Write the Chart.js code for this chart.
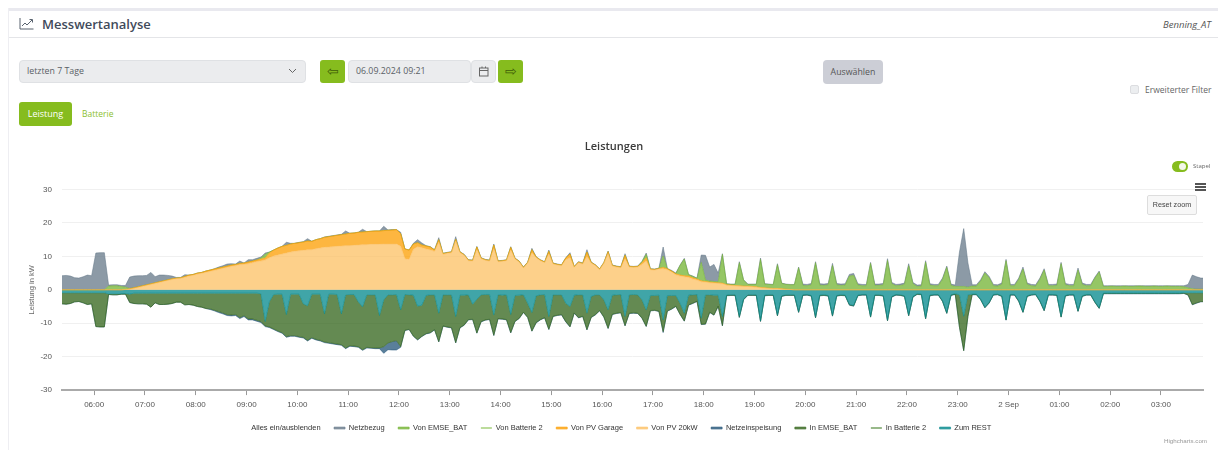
<!DOCTYPE html>
<html lang="de">
<head>
<meta charset="utf-8">
<title>Messwertanalyse</title>
<script src="https://cdn.jsdelivr.net/npm/chart.js@4"></script>
<style>
  body { margin: 0; width: 1218px; height: 450px; overflow: hidden; background: #fff; font-family: "Open Sans", sans-serif; color: #555; position: relative; }
  .abs { position: absolute; box-sizing: border-box; }
  .field { background: #ebecee; border: 1px solid #dfe1e4; border-radius: 4px; font-size: 8.8px; line-height: 21px; padding-left: 7px; color: #5a5f66; }
  .green { background: #86bc1e; border-radius: 3px; color: #3f5d08; font-size: 14px; line-height: 21px; text-align: center; }
  #chartBox { left: 0; top: 130px; width: 1218px; height: 320px; }
</style>
</head>
<body>
<div class="abs" style="left:8px;top:8px;width:1210px;height:3px;background:#e9e9ef"></div>
<div class="abs" style="left:8px;top:8px;width:1px;height:442px;background:#eeeef2"></div>
<div class="abs" style="left:9px;top:37px;width:1209px;height:1px;background:#e4e5e8"></div>
<svg class="abs" style="left:19px;top:17px" width="15" height="13" viewBox="0 0 15 13" fill="none" stroke="#59636f" stroke-width="1">
  <path d="M1 1V12H14.5"/><path d="M3 9L6 6L8 8L13 3"/><path d="M10.5 2.5H13.5V5.5"/>
</svg>
<div class="abs" style="left:42px;top:15px;font-size:13px;font-weight:600;color:#3f4a5a">Messwertanalyse</div>
<div class="abs" style="right:7px;top:18px;font-size:9.5px;font-style:italic;color:#555">Benning_AT</div>

<div class="abs field" style="left:19px;top:60px;width:287px;height:23px">letzten 7 Tage</div>
<svg class="abs" style="left:288px;top:68px" width="9" height="6" fill="none" stroke="#666"><path d="M1 1L4.5 4.5L8 1"/></svg>
<div class="abs green" style="left:320px;top:60px;width:25px;height:23px">&#8678;</div>
<div class="abs field" style="left:348px;top:60px;width:123px;height:23px">06.09.2024 09:21</div>
<div class="abs field" style="left:471px;top:60px;width:25px;height:23px"></div>
<svg class="abs" style="left:479px;top:66px" width="10" height="11" fill="none" stroke="#666"><rect x="0.5" y="2" width="8.5" height="8"/><path d="M0.5 4.5H9M3 0.5V2M6.5 0.5V2"/></svg>
<div class="abs green" style="left:498px;top:60px;width:25px;height:23px">&#8680;</div>
<div class="abs" style="left:823px;top:60px;width:60px;height:24px;background:#ccced6;border-radius:4px;font-size:8.8px;line-height:24px;text-align:center;color:#555">Auswählen</div>
<div class="abs" style="left:1130px;top:85px;width:9px;height:9px;background:#eceef0;border:1px solid #dcdde0;border-radius:2px"></div>
<div class="abs" style="left:1145px;top:84px;font-size:8.5px;color:#666">Erweiterter Filter</div>
<div class="abs" style="left:19px;top:102px;width:53px;height:24px;background:#86bc1e;border-radius:3px;font-size:9px;line-height:24px;text-align:center;color:#fff">Leistung</div>
<div class="abs" style="left:82px;top:108px;font-size:8.5px;color:#8cc030">Batterie</div>

<div class="abs" id="chartBox"><canvas id="leistungChart" width="1218" height="320"></canvas></div>

<div class="abs" style="left:1172px;top:161px;width:16px;height:11px;background:#86bc1e;border-radius:6px"></div>
<div class="abs" style="left:1179px;top:163px;width:7px;height:7px;background:#f4f8ea;border-radius:50%"></div>
<div class="abs" style="left:1193px;top:162px;font-size:6px;color:#666">Stapel</div>
<div class="abs" style="left:1195px;top:183px;width:11px;height:2px;background:#555"></div>
<div class="abs" style="left:1195px;top:186px;width:11px;height:2px;background:#555"></div>
<div class="abs" style="left:1195px;top:189px;width:11px;height:2px;background:#555"></div>
<div class="abs" style="left:1147px;top:195px;width:50px;height:20px;background:#f7f7f7;border:1px solid #ddd;border-radius:2px;font-family:'Liberation Sans',sans-serif;font-size:7.2px;line-height:18px;text-align:center;color:#444">Reset zoom</div>
<div class="abs" style="left:1164px;top:437px;font-family:'Liberation Sans',sans-serif;font-size:6.2px;color:#999">Highcharts.com</div>

<script>
// Messwerte alle 5 Minuten, Start 01.09. 05:22 (Stunden ab Mitternacht)
const startHour = 5 + 22 / 60;
const stepHours = 1 / 12;
const endHour = 27.827;

const tickHours = [6, 7, 8, 9, 10, 11, 12, 13, 14, 15, 16, 17, 18, 19, 20, 21, 22, 23, 24, 25, 26, 27];
const tickLabels = ["06:00", "07:00", "08:00", "09:00", "10:00", "11:00", "12:00", "13:00", "14:00", "15:00", "16:00",
  "17:00", "18:00", "19:00", "20:00", "21:00", "22:00", "23:00", "2 Sep", "01:00", "02:00", "03:00"];
const yTicks = [30, 20, 10, 0, -10, -20, -30];

const netzbezug = [
  4.2,4.3,4.1,3.6,3.5,3.9,4.4,4.2,11.0,11.1,
  11.1,.3,.3,.3,.3,.5,3.4,3.5,3.3,3.0,
  2.8,3.4,1.8,2.0,1.7,1.3,.8,.2,.1,.5,
  0,0,0,0,0,0,.1,.3,.4,.6,
  .4,.1,.7,0,.7,.4,.5,.3,.4,0,
  0,0,0,.9,.2,0,.1,.1,.7,0,
  0,0,.1,.1,.1,.1,.1,.9,0,0,
  0,.8,0,0,0,0,1.3,.1,.1,0,
  .4,0,0,.2,.9,.6,.1,.1,.1,.6,
  0,.1,.1,.8,.1,.1,.1,.1,.2,.1,
  .1,.1,.3,.1,.1,.1,.2,.1,.1,.1,
  .1,.4,.1,.1,.1,.4,.1,.1,.1,.1,
  .4,.1,.1,.1,.7,.1,.1,.1,.1,.2,
  .1,.1,.1,.4,.1,.1,.1,.1,.4,.1,
  .1,.1,2.7,.1,.2,.2,.1,.2,.1,.1,
  .1,2.2,7.4,4.2,5.1,2.6,.2,.1,.1,.1,
  .3,.1,.1,.1,.1,.4,.1,.1,.1,.3,
  .1,.1,.1,.1,.2,.4,.4,.4,.3,.4,
  .4,.4,.6,.4,.4,.4,.5,.6,.4,.4,
  .4,.3,.4,.4,.4,.5,.4,.4,.4,.4,
  .6,.4,.4,.4,.4,.4,.4,.4,.4,.4,
  .4,.4,10.3,17.3,7.2,.4,.4,.4,.4,.4,
  .4,.4,.4,.4,.4,.4,.4,.6,.4,.4,
  .4,.4,.4,.4,.4,.4,.4,.4,.4,.4,
  .6,.4,.4,.4,.3,.3,.2,.2,.1,.2,
  .2,.1,.2,.2,.1,.1,.2,.2,.1,.2,
  .2,.1,.2,.2,.2,.3,1.0,4.1,3.7,3.3,
  3.3];
const vonEmseBat = [
  0,0,0,0,0,0,0,0,0,0,
  0,1.1,1.2,1.2,1.0,.7,.1,0,0,0,
  0,0,0,0,0,0,0,0,0,0,
  0,0,0,0,0,0,0,0,0,0,
  0,0,0,0,0,0,0,.3,1.1,.3,
  0,0,0,0,0,0,0,0,0,0,
  0,0,0,0,0,0,0,0,0,0,
  0,0,0,0,0,0,0,0,0,0,
  0,0,0,0,0,0,0,0,0,0,
  .1,0,0,0,0,0,0,0,0,0,
  0,0,0,0,0,0,0,0,0,0,
  0,0,0,0,0,0,0,0,0,0,
  0,0,0,0,0,0,0,0,0,0,
  0,0,0,.1,0,0,0,.3,1.0,0,
  0,0,3.4,0,0,0,2.9,5.0,.4,.4,
  .2,5.5,.4,.3,.3,.3,8.6,.2,.2,.3,
  6.9,1.8,.5,.6,.7,8.4,1.1,1.1,1.1,7.1,
  1.6,1.4,1.4,1.5,6.6,1.3,1.2,1.5,8.1,1.4,
  1.3,1.5,7.3,1.5,1.3,1.4,4.1,4.3,1.4,1.2,
  1.2,7.9,1.3,1.3,1.5,8.8,1.8,1.2,1.3,1.6,
  7.2,1.8,1.0,1.1,8.3,1.4,1.2,1.2,3.1,6.7,
  1.3,1.0,1.0,1.0,.8,1.1,1.1,2.6,5.0,3.6,
  1.2,1.1,1.6,8.7,1.2,1.2,3.1,6.2,1.6,1.2,
  1.1,3.1,5.9,1.2,1.2,1.3,7.8,1.5,1.2,1.2,
  5.9,1.6,1.2,1.2,3.5,5.3,1.0,1.0,1.1,1.0,
  1.0,1.1,1.0,1.0,1.1,1.1,1.0,1.0,1.1,1.0,
  1.0,1.1,1.0,1.0,1.0,.9,.6,.3,.2,.2,
  .2];
const vonBatterie2 = [
  0,0,0,0,0,0,0,0,0,0, 0,0,0,0,0,0,0,0,0,0, 0,0,0,0,0,0,0,0,0,0,
  0,0,0,0,0,0,0,0,0,0, 0,0,0,0,0,0,0,0,0,0, 0,0,0,0,0,0,0,0,0,0,
  0,0,0,0,0,0,0,0,0,0, 0,0,0,0,0,0,0,0,0,0, 0,0,0,0,0,0,0,0,0,0,
  0,0,0,0,0,0,0,0,0,0, 0,0,0,0,0,0,0,0,0,0, 0,0,0,0,0,0,0,0,0,0,
  0,0,0,0,0,0,0,0,0,0, 0,0,0,0,0,0,0,0,0,0, 0,0,0,0,0,0,0,0,0,0,
  0,0,0,0,0,0,0,0,0,0, 0,0,0,0,0,0,0,0,0,0, 0,0,0,0,0,0,0,0,0,0,
  0,0,0,0,0,0,0,0,0,0, 0,0,0,0,0,0,0,0,0,0, 0,0,0,0,0,0,0,0,0,0,
  0,0,0,0,0,0,0,0,0,0, 0,0,0,0,0,0,0,0,0,0, 0,0,0,0,0,0,0,0,0,0,
  0,0,0,0,0,0,0,0,0,0, 0,0,0,0,0,0,0,0,0,0, 0,0,0,0,0,0,0,0,0,0,
  0];
const vonPvGarage = [
  0,0,0,0,0,0,0,0,0,0,
  0,0,0,0,0,0,.1,.2,.2,.2,
  .2,.2,.2,.2,.2,.2,.2,.2,.2,.3,
  .3,.3,.3,.3,.4,.4,.4,.4,.4,.4,
  .4,.4,.4,.4,.5,.5,.5,.6,.6,1.4,
  1.8,2.1,2.3,2.3,2.4,2.4,2.4,2.5,2.6,2.5,
  2.7,2.8,3.0,3.1,3.2,3.3,3.4,3.5,3.7,3.7,
  3.8,3.8,3.9,3.9,4.0,4.0,4.0,4.1,4.2,4.3,
  3.8,2.9,2.8,1.6,1.2,.8,.9,.9,.4,.8,
  .2,.2,.2,.5,.2,.2,.2,.2,.8,.2,
  .2,.2,1.1,.2,.2,.2,.8,.2,.2,.2,
  .2,1.0,.2,.2,.2,.8,.2,.2,.2,.5,
  1.1,.2,.2,.2,1.4,.2,.2,.2,.2,.6,
  .2,.2,.2,1.1,.2,.2,.2,.5,1.0,.2,
  .2,.2,.4,.3,.3,.3,.3,.3,.4,.4,
  .3,.3,.2,.2,.2,.2,.2,.1,.1,.1,
  .1,.1,.1,.1,.1,.1,.1,.1,.1,.1,
  .1,.1,0,0,0,0,0,0,0,0,
  0,0,0,0,0,0,0,0,0,0, 0,0,0,0,0,0,0,0,0,0, 0,0,0,0,0,0,0,0,0,0,
  0,0,0,0,0,0,0,0,0,0, 0,0,0,0,0,0,0,0,0,0, 0,0,0,0,0,0,0,0,0,0,
  0,0,0,0,0,0,0,0,0,0, 0,0,0,0,0,0,0,0,0,0, 0,0,0,0,0,0,0,0,0,0,
  0];
const vonPv20kW = [
  0,0,0,0,0,0,0,0,0,0,
  0,0,0,0,0,.1,.2,.4,.7,1.0,
  1.3,1.6,1.9,2.2,2.5,2.8,3.1,3.3,3.4,3.7,
  4.1,4.3,4.7,4.9,5.2,5.5,5.8,6.1,6.4,6.7,
  7.0,7.2,7.5,7.6,7.8,8.1,8.4,8.6,8.9,9.6,
  10.1,10.4,10.7,11.0,11.3,11.5,11.7,11.8,12.0,12.0,
  12.3,12.5,12.7,12.8,12.9,13.0,13.1,13.2,13.2,13.3,
  13.4,13.5,13.5,13.6,13.6,13.6,13.7,13.7,13.7,13.7,
  13.0,9.3,9.1,12.1,12.9,12.6,12.2,11.9,11.5,14.2,
  10.6,10.9,11.1,14.6,11.1,10.3,8.7,8.6,12.0,9.3,
  8.8,8.6,12.3,8.4,8.5,8.7,11.9,9.2,8.3,6.5,
  8.0,11.0,9.6,8.7,8.1,10.7,7.7,7.4,7.2,9.0,
  9.6,6.7,8.1,7.7,9.9,8.0,7.2,6.0,7.9,10.8,
  7.1,6.8,6.6,9.2,6.8,6.7,6.8,7.6,8.6,6.0,
  5.9,6.2,6.3,6.0,5.3,4.5,4.1,3.9,3.7,3.2,
  2.9,2.4,2.3,2.1,2.0,1.9,1.8,1.4,1.3,1.2,
  1.1,1.0,1.0,.9,.8,.6,.5,.4,.3,.3,
  .2,.1,.1,0,0,0,0,0,0,0,
  0,0,0,0,0,0,0,0,0,0, 0,0,0,0,0,0,0,0,0,0, 0,0,0,0,0,0,0,0,0,0,
  0,0,0,0,0,0,0,0,0,0, 0,0,0,0,0,0,0,0,0,0, 0,0,0,0,0,0,0,0,0,0,
  0,0,0,0,0,0,0,0,0,0, 0,0,0,0,0,0,0,0,0,0, 0,0,0,0,0,0,0,0,0,0,
  0];
const netzeinspeisung = [
  0,0,0,0,0,0,0,0,0,0,
  0,0,0,0,0,0,0,0,0,0,
  0,0,0,0,0,0,0,0,0,0,
  0,0,0,0,0,-.2,-.2,-.3,-.3,-.3,
  -.3,-.3,-.3,-.3,-.3,-.3,-.3,-.3,-.2,-.2,
  -.2,-.2,-.2,-.2,-.2,-.2,-.2,-.2,-.2,-.2,
  -.2,-.2,-.2,-.2,-.2,-.2,-.2,-.2,-.2,-.2,
  -.2,-.2,-.2,-.2,-.2,-.2,-2,-2,-2.5,-2.8,
  -.2,-.1,-.1,-.1,-.1,-.1,-.1,-.1,-.1,-.1,
  -.1,-.1,-.1,-.1,-.1,-.1,-.1,-.1,-.1,-.1,
  -.1,-.1,-.1,-.1,-.1,-.1,-.1,-.1,-.1,-.1,
  -.1,-.1,-.1,-.1,-.1,-.1,-.1,-.1,-.1,-.1,
  -.1,-.1,-.1,-.1,-.1,-.1,-.1,-.1,-.1,-.1,
  -.1,-.1,-.1,-.1,-.1,-.1,-.1,-.1,-.1,-.1,
  -.1,-.1,-.3,-.1,-.1,-.1,-.1,-.1,-.1,-.1,
  -.1,-.1,-.1,-.1,-.1,-.1,-.1,-.1,-.1,-.1,
  -.1,-.1,-.1,-.1,-.1,-.1,-.1,-.1,-.1,-.1,
  -.1,-.1,-.1,-.1,-.1,-.1,-.1,-.1,-.1,-.1,
  -.1,-.1,-.1,-.1,-.1,-.1,-.1,-.1,-.1,-.1,
  -.1,-.1,-.1,-.1,-.1,-.1,-.1,-.1,-.1,-.1,
  -.1,-.1,-.1,-.1,-.1,-.1,-.1,-.1,-.1,-.1,
  -.1,-.1,0,0,0,-.1,-.1,-.1,-.1,-.1,
  -.1,-.1,-.1,-.1,-.1,-.1,-.1,-.1,-.1,-.1,
  -.1,-.1,-.1,-.1,-.1,-.1,-.1,-.1,-.1,-.1,
  -.1,-.1,-.1,-.1,-.1,-.1,-.1,-.1,-.1,-.1,
  -.1,-.1,-.1,-.1,-.1,-.1,-.1,-.1,-.1,-.1,
  -.1,-.1,-.1,-.1,-.1,-.1,-.1,-.1,-.1,-.1,
  -.1];
const inEmseBat = [
  -3.3,-3.4,-3.2,-2.7,-2.6,-3,-3.5,-3.3,-10.1,-10.2,
  -10.2,-.2,-.3,-.3,-.1,-.2,-2.5,-3.1,-3.2,-3.2,
  -3.3,-4.2,-2.9,-3.4,-3.4,-3.3,-3.1,-2.7,-2.7,-3.5,
  -3.4,-3.6,-4,-4.2,-4.6,-4.7,-5.1,-5.5,-5.9,-6.4,
  -6.5,-6.4,-7.3,-6.7,-7.7,-7.7,-8.1,-8.3,-1.3,-7.6,
  -10.3,-11,-11.5,-6.6,-12.4,-12.4,-12.7,-10,-10.3,-13,
  -13.5,-13.8,-8.4,-14.5,-14.7,-14.8,-9.2,-15.9,-15.3,-15.4,
  -13.4,-12.8,-15.7,-15.8,-15.9,-9.7,-14,-14.4,-14,-13.8,
  -11,-10.7,-10.3,-12.2,-10,-9.3,-11.4,-11.3,-10.4,-8.5,
  -9.3,-9.6,-9.8,-7.8,-9.7,-8.9,-7.4,-4.5,-10.1,-8,
  -7.6,-7.4,-6.1,-7.1,-7.1,-7.4,-5.4,-7.7,-6.9,-5.2,
  -4.2,-5.5,-8,-7.4,-6.9,-3.8,-6.4,-6.1,-5.9,-5.5,
  -6,-5.3,-6.8,-6.4,-4.9,-6.2,-5.9,-4.7,-5.1,-5.5,
  -5.7,-5.5,-5.4,-2.7,-5.5,-5.5,-5.5,-5.4,-4.9,-4.5,
  -4.4,-4.8,-3.5,-4.6,-4,-3.2,-3.3,-2.3,-2.9,-2.5,
  -2,-1.8,-8.7,-5.2,-5.9,-3.3,-2.7,-.1,-.1,-.1,
  -.2,-.1,-.1,-.1,-.1,-.1,-.1,-.1,-.1,-.1,
  -.1,-.1,-.1,-.1,-.1,-.1,-.1,-.1,-.1,-.1,
  -.1,-.1,-.1,-.1,-.1,-.1,-.1,-.1,-.1,-.1,
  -.1,-.1,-.1,-.1,-.1,-.1,-.1,-.1,-.1,-.1,
  -.1,-.1,-.1,-.1,-.1,-.1,-.1,-.1,-.1,-.1,
  -.1,-.1,-9.7,-10.3,-6.4,-.1,-.1,-.1,-.1,-.1,
  -.1,-.1,-.1,-.1,-.1,-.1,-.1,-.1,-.1,-.1,
  -.1,-.1,-.1,-.1,-.1,-.1,-.1,-.1,-.1,-.1,
  -.1,-.1,-.1,-.1,-.1,-.1,-.1,-.1,-.1,-.1,
  -.1,-.1,-.1,-.1,-.1,-.1,-.1,-.1,-.1,-.1,
  -.1,-.1,-.1,-.1,-.1,-.1,-.6,-3.5,-3,-2.6,
  -2.6];
const inBatterie2 = [
  0,0,0,0,0,0,0,0,0,0, 0,0,0,0,0,0,0,0,0,0, 0,0,0,0,0,0,0,0,0,0,
  0,0,0,0,0,0,0,0,0,0, 0,0,0,0,0,0,0,0,0,0, 0,0,0,0,0,0,0,0,0,0,
  0,0,0,0,0,0,0,0,0,0, 0,0,0,0,0,0,0,0,0,0, 0,0,0,0,0,0,0,0,0,0,
  0,0,0,0,0,0,0,0,0,0, 0,0,0,0,0,0,0,0,0,0, 0,0,0,0,0,0,0,0,0,0,
  0,0,0,0,0,0,0,0,0,0, 0,0,0,0,0,0,0,0,0,0, 0,0,0,0,0,0,0,0,0,0,
  0,0,0,0,0,0,0,0,0,0, 0,0,0,0,0,0,0,0,0,0, 0,0,0,0,0,0,0,0,0,0,
  0,0,0,0,0,0,0,0,0,0, 0,0,0,0,0,0,0,0,0,0, 0,0,0,0,0,0,0,0,0,0,
  0,0,0,0,0,0,0,0,0,0, 0,0,0,0,0,0,0,0,0,0, 0,0,0,0,0,0,0,0,0,0,
  0,0,0,0,0,0,0,0,0,0, 0,0,0,0,0,0,0,0,0,0, 0,0,0,0,0,0,0,0,0,0,
  0];
const zumRest = [
  -.9,-.9,-.9,-.9,-.9,-.9,-.9,-.9,-.9,-.9,
  -.9,-1.2,-1.2,-1.2,-1.2,-1.1,-1.3,-1,-1,-1,
  -1,-1,-1,-1,-1,-1,-1,-1,-1,-1,
  -1,-1,-1,-1,-1,-1,-1,-1,-1,-1,
  -1,-1,-1,-1,-1,-1,-1,-1.2,-9.5,-3.5,
  -1.4,-1.3,-1.3,-7.4,-1.3,-1.3,-1.3,-4.2,-4.8,-1.3,
  -1.3,-1.3,-7.2,-1.3,-1.3,-1.4,-7.2,-1.5,-1.4,-1.4,
  -3.6,-5.1,-1.5,-1.5,-1.5,-7.7,-3,-1.5,-1.5,-1.4,
  -6,-1.4,-1.5,-1.6,-4.9,-4.6,-1.7,-1.5,-1.5,-7,
  -1.5,-1.5,-1.5,-8,-1.6,-1.6,-1.5,-4.3,-2.8,-1.5,
  -1.4,-1.4,-7.5,-1.5,-1.6,-1.5,-7.4,-1.7,-1.6,-1.5,
  -4,-6.8,-1.8,-1.5,-1.4,-8,-1.5,-1.5,-1.5,-4,
  -5,-1.6,-1.5,-1.5,-7,-2,-1.5,-1.5,-3,-6,
  -1.6,-1.5,-1.4,-8,-1.5,-1.4,-1.5,-3,-6,-1.7,
  -1.7,-1.6,-9,-1.7,-1.7,-1.7,-4,-7,-1.6,-1.5,
  -1.4,-8.5,-1.5,-1.5,-1.6,-1.6,-8,-1.6,-1.5,-1.5,
  -8,-2.8,-1.5,-1.5,-1.5,-9.3,-1.6,-1.5,-1.5,-7.6,
  -1.8,-1.5,-1.5,-1.5,-6.6,-1.5,-1.4,-1.7,-8.2,-1.6,
  -1.5,-1.7,-7.7,-1.7,-1.5,-1.6,-4.4,-4.7,-1.6,-1.4,
  -1.4,-8,-1.5,-1.5,-1.7,-9.1,-2,-1.4,-1.5,-1.8,
  -7.6,-2,-1.2,-1.3,-8.5,-1.6,-1.4,-1.4,-3.3,-6.9,
  -1.5,-1.2,-1.5,-7.9,-1.5,-1.3,-1.3,-2.8,-5.2,-3.8,
  -1.4,-1.3,-1.8,-8.9,-1.4,-1.4,-3.3,-6.6,-1.8,-1.4,
  -1.3,-3.3,-6.1,-1.4,-1.4,-1.5,-8,-1.7,-1.4,-1.4,
  -6.3,-1.8,-1.4,-1.4,-3.6,-5.4,-1,-1,-1,-1,
  -1,-1,-1,-1,-1,-1,-1,-1,-1,-1,
  -1,-1,-1,-1,-1,-.9,-.9,-.9,-.9,-.9,
  -.9];

// Reihenfolge der Legende, gestapelt wird in umgekehrter Richtung
const legendOrder = ["Alles ein/ausblenden", "Netzbezug", "Von EMSE_BAT", "Von Batterie 2", "Von PV Garage", "Von PV 20kW",
  "Netzeinspeisung", "In EMSE_BAT", "In Batterie 2", "Zum REST"];

// Build {x,y} points on the hour axis
function toPoints(values) {
  return values.map((y, i) => ({ x: startHour + i * stepHours, y }));
}

function areaDataset(label, values, rgb, stack, fill, lineWidth = 1) {
  return {
    label,
    data: toPoints(values),
    stack,
    fill,
    borderColor: `rgba(${rgb}, 0.55)`,
    backgroundColor: `rgba(${rgb}, 0.75)`,
    borderWidth: lineWidth,
    pointRadius: 0,
    tension: 0,
  };
}

// Show or hide everything, otherwise the normal legend toggle
function onLegendClick(e, item, legend) {
  if (item.text !== legendOrder[0]) {
    Chart.defaults.plugins.legend.onClick.call(this, e, item, legend);
    return;
  }
  const chart = legend.chart;
  const anyVisible = chart.data.datasets.some((d, i) => d.data.length && chart.isDatasetVisible(i));
  chart.data.datasets.forEach((d, i) => chart.setDatasetVisibility(i, !anyVisible));
  chart.update();
}

const ctx = document.getElementById("leistungChart").getContext("2d");
new Chart(ctx, {
  type: "line",
  data: {
    datasets: [
      areaDataset("Von PV 20kW", vonPv20kW, "252, 192, 99", "pos", "origin"),
      areaDataset("Von PV Garage", vonPvGarage, "252, 158, 0", "pos", "-1"),
      areaDataset("Von Batterie 2", vonBatterie2, "166, 208, 123", "pos", "-1", 0),
      areaDataset("Von EMSE_BAT", vonEmseBat, "114, 179, 50", "pos", "-1"),
      areaDataset("Netzbezug", netzbezug, "101, 120, 136", "pos", "-1"),
      areaDataset("Zum REST", zumRest, "0, 135, 139", "neg", "origin"),
      areaDataset("In Batterie 2", inBatterie2, "118, 162, 99", "neg", "-1", 0),
      areaDataset("In EMSE_BAT", inEmseBat, "48, 99, 24", "neg", "-1"),
      areaDataset("Netzeinspeisung", netzeinspeisung, "35, 84, 120", "neg", "-1"),
      { label: legendOrder[0], data: [], fill: false, borderWidth: 0, borderColor: "transparent", backgroundColor: "transparent" },
    ],
  },
  options: {
    responsive: false,
    animation: false,
    layout: { padding: { left: 25, right: 15, bottom: 8.2 } },
    plugins: {
      title: {
        display: true,
        text: "Leistungen",
        color: "#3a3a3a",
        font: { family: "'Open Sans'", size: 11, weight: "600", lineHeight: 1.2 },
        padding: { top: 10, bottom: 36.3 },
      },
      tooltip: { enabled: false },
      legend: {
        position: "bottom",
        onClick: onLegendClick,
        labels: {
          boxWidth: 11,
          boxHeight: 2,
          padding: 13.5,
          color: "#333",
          font: { family: "'Liberation Sans'", size: 7.5 },
          sort: (a, b) => legendOrder.indexOf(a.text) - legendOrder.indexOf(b.text),
        },
      },
    },
    scales: {
      x: {
        type: "linear",
        min: startHour,
        max: endHour,
        afterBuildTicks: (scale) => { scale.ticks = tickHours.map((value) => ({ value })); },
        afterFit: (scale) => { scale.height = 20.7; },
        grid: { drawOnChartArea: false, tickLength: 5, tickColor: "#999" },
        border: { color: "#aaa", width: 2 },
        ticks: {
          autoSkip: false,
          maxRotation: 0,
          padding: 5,
          color: "#555",
          font: { family: "'Liberation Sans'", size: 8 },
          callback: (value, index) => tickLabels[index],
        },
      },
      y: {
        stacked: true,
        min: -30,
        max: 30,
        afterBuildTicks: (scale) => { scale.ticks = yTicks.map((value) => ({ value })); },
        afterFit: (scale) => { scale.width = 37; },
        grid: { color: "#f0f0f0", drawTicks: false },
        border: { display: false },
        title: {
          display: true,
          text: "Leistung in kW",
          color: "#666",
          padding: { top: 2, bottom: 0 },
          font: { family: "'Liberation Sans'", size: 7.5 },
        },
        ticks: {
          padding: 10,
          color: "#555",
          font: { family: "'Liberation Sans'", size: 8 },
        },
      },
    },
  },
});
</script>
</body>
</html>
